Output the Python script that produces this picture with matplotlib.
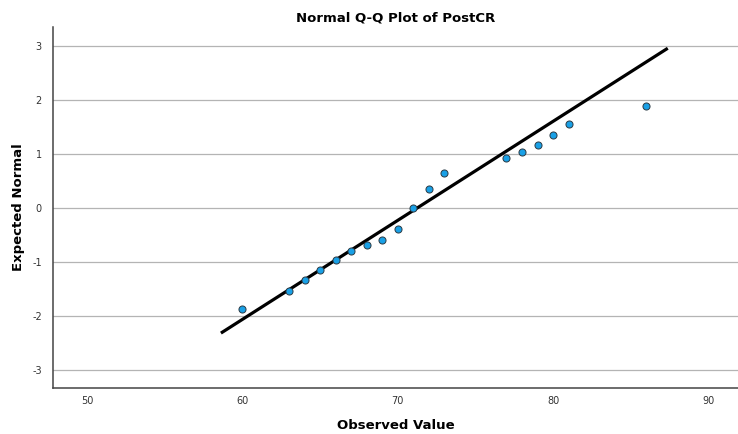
import matplotlib
matplotlib.use("Agg")
import matplotlib.pyplot as plt
import numpy as np

observed = [60, 63, 64, 65, 66, 67, 68, 69, 70, 71, 72, 73, 77, 78, 79, 80, 81, 86]
expected = [-1.87, -1.54, -1.33, -1.15, -0.96, -0.80, -0.69, -0.59, -0.39, 0.00,
            0.35, 0.65, 0.93, 1.04, 1.17, 1.35, 1.55, 1.89]

# reference line: expected = (x - mean) / sd
line_mean = 71.25
line_sd = 5.46
line_x = [58.7, 87.3]

x_ticks = [50, 60, 70, 80, 90]
y_ticks = [-3, -2, -1, 0, 1, 2, 3]

plt.rcParams['font.family'] = ['DejaVu Sans']
plt.rcParams['axes.unicode_minus'] = False

fig = plt.figure(figsize=(7.38, 4.34), dpi=100)
ax = fig.add_axes([0.0718, 0.106, 0.928, 0.832])

ax.set_xlim(47.8, 91.9)
ax.set_ylim(-3.33, 3.35)

ax.set_yticks(y_ticks)
ax.set_xticks(x_ticks)
ax.grid(axis='y', color='#b4b4b4', linewidth=0.9)
ax.set_axisbelow(True)

lx = np.array(line_x)
ax.plot(lx, (lx - line_mean) / line_sd, color='black', linewidth=2.3, zorder=2)
ax.scatter(observed, expected, s=26, color='#19a0e6', edgecolors='#2b3a44',
           linewidths=0.7, zorder=3)

for side in ['top', 'right']:
    ax.spines[side].set_visible(False)
for side in ['left', 'bottom']:
    ax.spines[side].set_color('#444444')
    ax.spines[side].set_linewidth(1.1)

ax.tick_params(length=0, labelsize=7, colors='#333333')
ax.tick_params(axis='y', pad=8)
ax.tick_params(axis='x', pad=6)

ax.set_title('Normal Q-Q Plot of PostCR', fontsize=9.5, fontweight='bold', pad=4)
ax.set_xlabel('Observed Value', fontsize=9.5, fontweight='bold', labelpad=9)
ax.set_ylabel('Expected Normal', fontsize=9.5, fontweight='bold')
ax.yaxis.set_label_coords(-0.041, 0.5)

fig.savefig('out.png', dpi=100)
